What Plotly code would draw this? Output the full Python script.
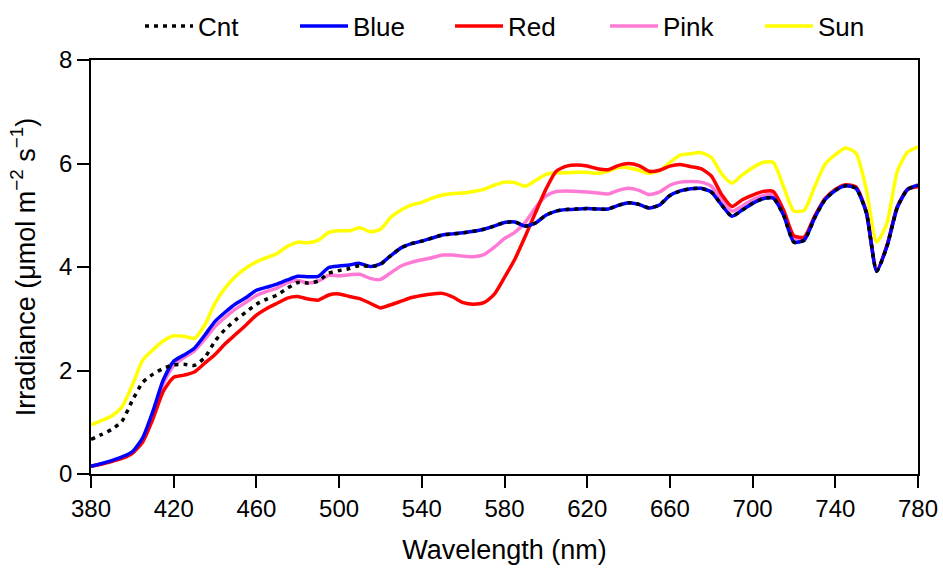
import plotly.graph_objects as go

wavelength = list(range(380, 781, 5))

cnt = [0.67, 0.76, 0.86, 1.02, 1.42, 1.77, 1.93, 2.04, 2.11, 2.12,
       2.10, 2.25, 2.57, 2.80, 2.98, 3.13, 3.28, 3.38, 3.46, 3.59,
       3.70, 3.69, 3.73, 3.88, 3.93, 3.97, 4.03, 4.01, 4.05, 4.22,
       4.37, 4.45, 4.50, 4.56, 4.62, 4.64, 4.66, 4.69, 4.73, 4.79,
       4.86, 4.87, 4.79, 4.85, 5.00, 5.08, 5.11, 5.12, 5.13, 5.12,
       5.12, 5.19, 5.24, 5.21, 5.14, 5.20, 5.38, 5.47, 5.51, 5.52,
       5.45, 5.20, 4.98, 5.10, 5.23, 5.32, 5.33, 5.00, 4.48, 4.52,
       4.95, 5.30, 5.48, 5.57, 5.52, 5.05, 3.92, 4.40, 5.15, 5.50,
       5.58]

blue = [0.15, 0.20, 0.26, 0.33, 0.43, 0.70, 1.22, 1.82, 2.18, 2.30,
        2.43, 2.68, 2.95, 3.13, 3.29, 3.41, 3.55, 3.61, 3.67, 3.75,
        3.82, 3.81, 3.82, 3.99, 4.02, 4.04, 4.07, 4.01, 4.06, 4.22,
        4.37, 4.45, 4.50, 4.56, 4.62, 4.64, 4.66, 4.69, 4.73, 4.79,
        4.86, 4.87, 4.79, 4.85, 5.00, 5.08, 5.11, 5.12, 5.13, 5.12,
        5.12, 5.19, 5.24, 5.21, 5.14, 5.20, 5.38, 5.47, 5.51, 5.52,
        5.45, 5.20, 4.98, 5.10, 5.23, 5.32, 5.33, 5.00, 4.48, 4.52,
        4.95, 5.30, 5.48, 5.57, 5.52, 5.05, 3.92, 4.40, 5.15, 5.50,
        5.58]

red = [0.15, 0.19, 0.24, 0.30, 0.40, 0.62, 1.07, 1.60, 1.87, 1.91,
       1.97, 2.14, 2.31, 2.52, 2.70, 2.88, 3.07, 3.20, 3.30, 3.40,
       3.43, 3.38, 3.36, 3.46, 3.48, 3.43, 3.39, 3.30, 3.21, 3.27,
       3.34, 3.41, 3.45, 3.48, 3.49, 3.42, 3.31, 3.28, 3.31, 3.47,
       3.80, 4.15, 4.59, 5.05, 5.50, 5.85, 5.95, 5.97, 5.95, 5.90,
       5.88, 5.96, 6.00, 5.96, 5.85, 5.87, 5.95, 5.98, 5.94, 5.90,
       5.76, 5.40, 5.17, 5.30, 5.39, 5.46, 5.46, 5.10, 4.60, 4.58,
       4.98, 5.32, 5.50, 5.59, 5.55, 5.07, 3.94, 4.42, 5.17, 5.50,
       5.55]

pink = [0.15, 0.20, 0.25, 0.32, 0.42, 0.68, 1.18, 1.75, 2.10, 2.25,
        2.38, 2.60, 2.85, 3.03, 3.19, 3.32, 3.45, 3.53, 3.59, 3.70,
        3.74, 3.69, 3.73, 3.84, 3.83, 3.85, 3.86, 3.78, 3.76, 3.89,
        4.02, 4.09, 4.14, 4.18, 4.23, 4.23, 4.21, 4.20, 4.24, 4.38,
        4.55, 4.67, 4.86, 5.15, 5.37, 5.46, 5.47, 5.46, 5.45, 5.43,
        5.41, 5.48, 5.52, 5.48, 5.40, 5.45, 5.58, 5.64, 5.65, 5.64,
        5.56, 5.30, 5.08, 5.18, 5.30, 5.38, 5.40, 5.05, 4.56, 4.55,
        4.97, 5.31, 5.49, 5.58, 5.53, 5.06, 3.93, 4.41, 5.16, 5.51,
        5.57]

sun = [0.95, 1.03, 1.12, 1.30, 1.72, 2.20, 2.40, 2.57, 2.67, 2.66,
       2.62, 2.88, 3.30, 3.60, 3.82, 3.98, 4.10, 4.18, 4.26, 4.40,
       4.48, 4.47, 4.52, 4.67, 4.70, 4.70, 4.76, 4.68, 4.73, 4.96,
       5.10, 5.20, 5.25, 5.33, 5.39, 5.42, 5.43, 5.46, 5.50, 5.58,
       5.64, 5.63, 5.56, 5.67, 5.79, 5.82, 5.82, 5.83, 5.83, 5.81,
       5.85, 5.92, 5.92, 5.87, 5.81, 5.86, 6.02, 6.16, 6.19, 6.21,
       6.12, 5.80, 5.62, 5.78, 5.92, 6.02, 6.02, 5.55, 5.08, 5.10,
       5.55, 5.98, 6.17, 6.30, 6.20, 5.50, 4.48, 4.85, 5.85, 6.22,
       6.32]

x_ticks = [380, 420, 460, 500, 540, 580, 620, 660, 700, 740, 780]
y_ticks = [0, 2, 4, 6, 8]

# draw order: bottom to top
series = [
    ("Sun", sun, "#FFFF00", "solid", 5),
    ("Pink", pink, "#FF7AD4", "solid", 4),
    ("Red", red, "#FF0000", "solid", 3),
    ("Blue", blue, "#0000FF", "solid", 2),
    ("Cnt", cnt, "#000000", "4px,5px", 1),
]

fig = go.Figure()
for name, vals, color, dash, rank in series:
    fig.add_trace(go.Scatter(
        x=wavelength, y=vals, mode="lines", name=name,
        line=dict(color=color, width=3.5, dash=dash, shape="spline", smoothing=0.6),
        legendrank=rank,
    ))

fig.update_layout(
    width=943, height=570,
    margin=dict(l=91, r=25, t=60, b=96, autoexpand=False),
    paper_bgcolor="white", plot_bgcolor="white",
    font=dict(family="Liberation Sans, Arial, sans-serif", size=24, color="black"),
    legend=dict(
        orientation="h", x=140 / 943, xref="container", xanchor="left",
        y=1 - 26 / 570, yref="container", yanchor="middle",
        font=dict(size=26), itemwidth=48, entrywidth=92, entrywidthmode="pixels",
        bgcolor="rgba(0,0,0,0)",
    ),
    showlegend=True,
)

fig.update_xaxes(
    range=[380, 780], tickvals=x_ticks, ticks="outside", ticklen=12, tickwidth=1.5,
    tickcolor="black", showline=True, linecolor="black", linewidth=1.5, mirror=True,
    showgrid=False, zeroline=False, tickfont=dict(size=24),
    title=dict(text="Wavelength (nm)", font=dict(size=27), standoff=20),
)
fig.update_yaxes(
    range=[0, 8], tickvals=y_ticks, ticks="outside", ticklen=12, tickwidth=1.5,
    tickcolor="black", showline=True, linecolor="black", linewidth=1.5, mirror=True,
    showgrid=False, zeroline=False, tickfont=dict(size=24),
    title=dict(text="Irradiance (μmol m<sup>−2</sup> s<sup>−1</sup>)", font=dict(size=27), standoff=16),
)

fig.write_html("out.html")
